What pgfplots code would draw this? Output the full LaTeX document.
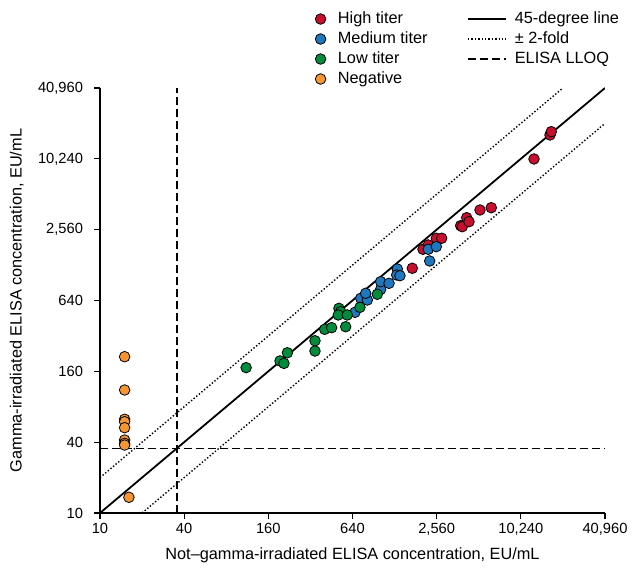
\documentclass[border=0pt]{standalone}
\usepackage{fontspec}
\setmainfont{Liberation Sans}
\usepackage{pgfplots}
\pgfplotsset{compat=1.18}
\definecolor{hired}{RGB}{200,16,46}
\definecolor{medblue}{RGB}{31,119,190}
\definecolor{lowgreen}{RGB}{0,140,60}
\definecolor{negorange}{RGB}{245,150,50}
\pgfplotsset{
  markleg/.style={legend image code/.code={\draw[##1] plot coordinates {(5pt,0pt)};}},
  lineleg/.style={legend image code/.code={\draw[##1] (0pt,0pt) -- (38pt,0pt);}},
}
\begin{document}
\begin{tikzpicture}[font=\fontsize{16.3}{19.5}\selectfont]
\begin{axis}[
  scale only axis, width=505pt, height=425pt,
  xmode=log, ymode=log,
  xmin=10, xmax=40960, ymin=10, ymax=40960,
  axis lines*=left,
  axis line style={line width=1.2pt},
  tick align=outside, major tick length=6pt,
  tick style={line width=1.2pt, black},
  xminorticks=false, yminorticks=false,
  xtick={10,40,160,640,2560,10240,40960},
  xticklabels={10,40,160,640,{2,560},{10,240},{40,960}},
  ytick={10,40,160,640,2560,10240,40960},
  yticklabels={10,40,160,640,{2,560},{10,240},{40,960}},
  tick label style={font=\fontsize{14.7}{17}\selectfont},
  yticklabel style={xshift=-7.5pt},
  xticklabel style={yshift=-1pt},
  /pgf/number format/assume math mode=true,
  xlabel={Not–gamma-irradiated ELISA concentration, EU/mL},
  ylabel={Gamma-irradiated ELISA concentration, EU/mL},
  xlabel shift=5pt,
  ylabel shift=7.5pt,
  legend columns=2,
  legend cell align=left,
  legend style={draw=none, fill=none, at={(axis description cs:0.42,1.191)}, anchor=north west,
    /tikz/column 1/.style={column sep=10pt},
    /tikz/column 2/.style={column sep=37.5pt},
    /tikz/column 3/.style={column sep=6pt},
    nodes={inner sep=2pt, text height=12pt, text depth=4pt},
    row sep=0pt},
  mark size=5.3pt,
]
% legend
\addlegendimage{only marks, mark=*, mark options={fill=hired, draw=black, line width=0.8pt}, markleg}
\addlegendentry{High titer}
\addlegendimage{black, line width=1.8pt, lineleg}
\addlegendentry{45-degree line}
\addlegendimage{only marks, mark=*, mark options={fill=medblue, draw=black, line width=0.8pt}, markleg}
\addlegendentry{Medium titer}
\addlegendimage{black, line width=1.4pt, dash pattern=on 1.4pt off 2pt, lineleg}
\addlegendentry{± 2-fold}
\addlegendimage{only marks, mark=*, mark options={fill=lowgreen, draw=black, line width=0.8pt}, markleg}
\addlegendentry{Low titer}
\addlegendimage{black, line width=1.5pt, dash pattern=on 8pt off 4pt, lineleg}
\addlegendentry{ELISA LLOQ}
\addlegendimage{only marks, mark=*, mark options={fill=negorange, draw=black, line width=0.8pt}, markleg}
\addlegendentry{Negative}
% reference lines
\addplot[forget plot, black, line width=1.5pt, dash pattern=on 8pt off 4pt] coordinates {(10,35.5) (40960,35.5)};
\addplot[forget plot, black, line width=1.5pt, dash pattern=on 8pt off 4pt] coordinates {(35.5,10) (35.5,40960)};
\addplot[forget plot, black, line width=1.4pt, dash pattern=on 1.4pt off 2pt] coordinates {(10,20) (20480,40960)};
\addplot[forget plot, black, line width=1.4pt, dash pattern=on 1.4pt off 2pt] coordinates {(20,10) (40960,20480)};
\addplot[forget plot, black, line width=1.8pt] coordinates {(10,10) (40960,40960)};
% data
\addplot[forget plot, only marks, mark=*, mark options={fill=hired, draw=black, line width=0.8pt}] table {
x y
1714 1202
2044 1744
2230 1897
2545 2163
2781 2163
3802 2767
3904 2713
4198 3236
4360 2992
5226 3761
6293 3935
12720 10208
16560 16330
16910 17420
};
\addplot[forget plot, only marks, mark=*, mark options={fill=medblue, draw=black, line width=0.8pt}] table {
x y
667 508
733 668
817 646
795 737
1018 797
1018 925
1168 896
1339 1186
1325 1054
1399 1040
2230 1744
2545 1835
2282 1387
};
\addplot[forget plot, only marks, mark=*, mark options={fill=lowgreen, draw=black, line width=0.8pt}] table {
x y
111 172
194 196
207 187
219 230
345 291
345 238
405 364
454 376
572 383
512 549
527 514
506 482
587 482
724 560
963 723
};
\addplot[forget plot, only marks, mark=*, mark options={fill=negorange, draw=black, line width=0.8pt}] table {
x y
15 213
15 111
15 62.6
15 59.7
15 53.1
15 41.7
15 39.1
15 37.8
16.1 13.6
};
\end{axis}
\path (current axis.south west) ++(-100pt,-59pt);
\path (current axis.south west) ++(532pt,513pt);
\end{tikzpicture}
\end{document}
